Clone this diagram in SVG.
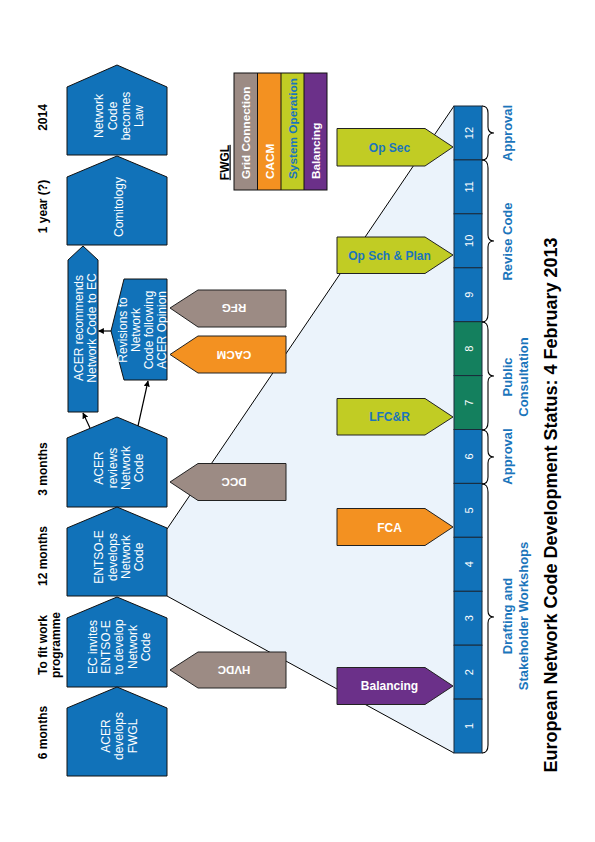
<svg xmlns="http://www.w3.org/2000/svg" width="595" height="842" viewBox="0 0 595 842">
<defs>
<style>
text{font-family:"Liberation Sans",Arial,sans-serif;}
.pent{fill:#1172b9;stroke:#111;stroke-width:1;}
.pt{fill:#fff;font-size:12px;text-anchor:middle;}
.time{fill:#000;font-size:12px;font-weight:bold;text-anchor:middle;}
.gray{fill:#9c8b84;stroke:#222;stroke-width:1;}
.orange{fill:#f39121;stroke:#222;stroke-width:1;}
.yg{fill:#c1cc24;stroke:#222;stroke-width:1;}
.purple{fill:#6b3089;stroke:#222;stroke-width:1;}
.tagw{fill:#fff;font-size:11.5px;font-weight:bold;text-anchor:middle;}
.tagb{fill:#1b75bb;font-size:12px;font-weight:bold;text-anchor:middle;}
.seg{fill:#1172b9;stroke:#1a2a3a;stroke-width:1;}
.segg{fill:#14805e;stroke:#1a2a3a;stroke-width:1;}
.num{fill:#fff;font-size:11px;text-anchor:middle;}
.brace{fill:none;stroke:#000;stroke-width:1.1;}
.phase{fill:#1b75bb;font-size:13px;font-weight:bold;text-anchor:middle;}
.leg{font-size:11.8px;font-weight:bold;}
.conn{fill:none;stroke:#000;stroke-width:1.2;}
</style>
<marker id="ah" viewBox="0 0 10 10" refX="9" refY="5" markerWidth="6" markerHeight="6" orient="auto" markerUnits="userSpaceOnUse">
<path d="M0,0 L10,5 L0,10 Z" fill="#000"/>
</marker>
</defs>
<rect x="0" y="0" width="595" height="842" fill="#fff"/>

<!-- light blue expansion area -->
<g id="expansion">
<polygon points="167,529 454,106 454,753 167,596" fill="#ebf3fb"/>
<line x1="167" y1="529" x2="454" y2="106" stroke="#000" stroke-width="1"/>
<line x1="167" y1="596" x2="454" y2="753" stroke="#000" stroke-width="1"/>
</g>

<!-- time labels -->
<g id="time-labels">
<text class="time" transform="translate(47,117.5) rotate(-90)">2014</text>
<text class="time" transform="translate(47,206.5) rotate(-90)">1 year (?)</text>
<text class="time" transform="translate(47,469) rotate(-90)">3 months</text>
<text class="time" transform="translate(47,556) rotate(-90)">12 months</text>
<text class="time" transform="translate(0,645) rotate(-90)"><tspan x="0" y="47">To fit work</tspan><tspan x="0" y="60">programme</tspan></text>
<text class="time" transform="translate(47,732.5) rotate(-90)">6 months</text>
</g>

<!-- process pentagons -->
<g id="n-law">
<path class="pent" d="M117,65 L167,87 L167,155 L67,155 L67,87 Z"/>
<text class="pt" transform="translate(0,116) rotate(-90)"><tspan x="0" y="103.3">Network</tspan><tspan x="0" y="116.6">Code</tspan><tspan x="0" y="129.9">becomes</tspan><tspan x="0" y="143.2">Law</tspan></text>
</g>
<g id="n-comitology">
<path class="pent" d="M117,156 L167,177 L167,245 L67,245 L67,177 Z"/>
<text class="pt" transform="translate(0,207) rotate(-90)"><tspan x="0" y="122.5">Comitology</tspan></text>
</g>
<g id="n-acer-recommends">
<path class="pent" d="M83,246 L98,260 L98,412 L68,412 L68,260 Z"/>
<text class="pt" transform="translate(0,328) rotate(-90)"><tspan x="0" y="82.5">ACER recommends</tspan><tspan x="0" y="96">Network Code to EC</tspan></text>
</g>
<g id="n-revisions">
<path class="pent" d="M124,279 L167,279 L167,380 L124,380 L111,331 Z"/>
<text class="pt" transform="translate(0,330) rotate(-90)"><tspan x="0" y="126.5">Revisions to</tspan><tspan x="0" y="139.5">Network</tspan><tspan x="0" y="152.5">Code following</tspan><tspan x="0" y="165.5">ACER Opinion</tspan></text>
</g>
<g id="n-acer-reviews">
<path class="pent" d="M117,417 L167,438 L167,507 L67,507 L67,438 Z"/>
<text class="pt" transform="translate(0,468) rotate(-90)"><tspan x="0" y="103.3">ACER</tspan><tspan x="0" y="116.6">reviews</tspan><tspan x="0" y="129.9">Network</tspan><tspan x="0" y="143.2">Code</tspan></text>
</g>
<g id="n-entsoe-develops">
<path class="pent" d="M117,507 L167,528 L167,596 L67,596 L67,528 Z"/>
<text class="pt" transform="translate(0,557) rotate(-90)"><tspan x="0" y="103.3">ENTSO-E</tspan><tspan x="0" y="116.6">develops</tspan><tspan x="0" y="129.9">Network</tspan><tspan x="0" y="143.2">Code</tspan></text>
</g>
<g id="n-ec-invites">
<path class="pent" d="M117,597 L167,618 L167,687 L67,687 L67,618 Z"/>
<text class="pt" transform="translate(0,647) rotate(-90)"><tspan x="0" y="96.7">EC invites</tspan><tspan x="0" y="110">ENTSO-E</tspan><tspan x="0" y="123.3">to develop</tspan><tspan x="0" y="136.6">Network</tspan><tspan x="0" y="149.9">Code</tspan></text>
</g>
<g id="n-acer-fwgl">
<path class="pent" d="M117,687 L167,708 L167,776 L67,776 L67,708 Z"/>
<text class="pt" transform="translate(0,736) rotate(-90)"><tspan x="0" y="110">ACER</tspan><tspan x="0" y="123.3">develops</tspan><tspan x="0" y="136.6">FWGL</tspan></text>
</g>

<!-- connectors -->
<g id="connectors">
<line class="conn" x1="90" y1="428" x2="83" y2="413" marker-end="url(#ah)"/>
<line class="conn" x1="138" y1="426" x2="148" y2="381" marker-end="url(#ah)"/>
<line class="conn" x1="111" y1="331" x2="98.5" y2="331" marker-end="url(#ah)"/>
</g>

<!-- left tags (upside-down text) -->
<g id="t-rfg">
<path class="gray" d="M170,308 L198,290 L286,290 L286,327 L198,327 Z"/>
<text class="tagw" transform="translate(234,304) rotate(180)">RFG</text>
</g>
<g id="t-cacm">
<path class="orange" d="M170,354.5 L198,336 L286,336 L286,373 L198,373 Z"/>
<text class="tagw" transform="translate(234,350.5) rotate(180)">CACM</text>
</g>
<g id="t-dcc">
<path class="gray" d="M170,482 L198,463.5 L286,463.5 L286,500.5 L198,500.5 Z"/>
<text class="tagw" transform="translate(234,478) rotate(180)">DCC</text>
</g>
<g id="t-hvdc">
<path class="gray" d="M170,670 L198,652 L286,652 L286,688 L198,688 Z"/>
<text class="tagw" transform="translate(234,666) rotate(180)">HVDC</text>
</g>

<!-- FWGL legend -->
<g id="legend">
<text transform="translate(228.5,162.5) rotate(-90)" style="font-size:12px;font-weight:bold;text-anchor:middle;text-decoration:underline;" fill="#000">FWGL</text>
<rect x="234" y="73" width="23.5" height="117" fill="#9c8b84"/>
<rect x="257.5" y="73" width="23.5" height="117" fill="#f39121"/>
<rect x="281" y="73" width="23" height="117" fill="#c1cc24"/>
<rect x="304" y="73" width="23" height="117" fill="#6b3089"/>
<rect x="234" y="73" width="93" height="117" fill="none" stroke="#111" stroke-width="1"/>
<line x1="257.5" y1="73" x2="257.5" y2="190" stroke="#111" stroke-width="1"/>
<line x1="281" y1="73" x2="281" y2="190" stroke="#111" stroke-width="1"/>
<line x1="304" y1="73" x2="304" y2="190" stroke="#111" stroke-width="1"/>
<text class="leg" fill="#fff" transform="translate(250,179) rotate(-90)">Grid Connection</text>
<text class="leg" fill="#fff" transform="translate(274,179) rotate(-90)">CACM</text>
<text class="leg" fill="#1b75bb" transform="translate(297,179) rotate(-90)">System Operation</text>
<text class="leg" fill="#fff" transform="translate(320,179) rotate(-90)">Balancing</text>
</g>

<!-- right tags -->
<g id="t-opsec">
<path class="yg" d="M337,128.5 L425,128.5 L453,147 L425,166 L337,166 Z"/>
<text class="tagb" x="389.5" y="151.5">Op Sec</text>
</g>
<g id="t-opsch">
<path class="yg" d="M337,237 L425,237 L453,255 L425,273.5 L337,273.5 Z"/>
<text class="tagb" x="389.5" y="259.5">Op Sch &amp; Plan</text>
</g>
<g id="t-lfcr">
<path class="yg" d="M337,398.5 L425,398.5 L453,417 L425,435 L337,435 Z"/>
<text class="tagb" x="389.5" y="421">LFC&amp;R</text>
</g>
<g id="t-fca">
<path class="orange" d="M337,508.5 L425,508.5 L453,527 L425,545.5 L337,545.5 Z"/>
<text class="tagw" style="font-size:12px" x="389.5" y="531.5">FCA</text>
</g>
<g id="t-balancing">
<path class="purple" d="M337,667.5 L425,667.5 L453,686 L425,704.5 L337,704.5 Z"/>
<text class="tagw" style="font-size:12px" x="389.5" y="690">Balancing</text>
</g>

<!-- timeline bar -->
<g id="timeline">
<rect class="seg" x="454" y="106" width="28" height="53.9"/>
<rect class="seg" x="454" y="159.9" width="28" height="53.9"/>
<rect class="seg" x="454" y="213.8" width="28" height="54"/>
<rect class="seg" x="454" y="267.8" width="28" height="53.9"/>
<rect class="segg" x="454" y="321.7" width="28" height="53.9"/>
<rect class="segg" x="454" y="375.6" width="28" height="53.9"/>
<rect class="seg" x="454" y="429.5" width="28" height="53.9"/>
<rect class="seg" x="454" y="483.4" width="28" height="53.9"/>
<rect class="seg" x="454" y="537.3" width="28" height="54"/>
<rect class="seg" x="454" y="591.3" width="28" height="53.9"/>
<rect class="seg" x="454" y="645.2" width="28" height="53.9"/>
<rect class="seg" x="454" y="699.1" width="28" height="53.9"/>
<text class="num" transform="translate(472.5,133) rotate(-90)">12</text>
<text class="num" transform="translate(472.5,186.9) rotate(-90)">11</text>
<text class="num" transform="translate(472.5,240.8) rotate(-90)">10</text>
<text class="num" transform="translate(472.5,294.7) rotate(-90)">9</text>
<text class="num" transform="translate(472.5,348.6) rotate(-90)">8</text>
<text class="num" transform="translate(472.5,402.6) rotate(-90)">7</text>
<text class="num" transform="translate(472.5,456.5) rotate(-90)">6</text>
<text class="num" transform="translate(472.5,510.4) rotate(-90)">5</text>
<text class="num" transform="translate(472.5,564.3) rotate(-90)">4</text>
<text class="num" transform="translate(472.5,618.2) rotate(-90)">3</text>
<text class="num" transform="translate(472.5,672.1) rotate(-90)">2</text>
<text class="num" transform="translate(472.5,726) rotate(-90)">1</text>
</g>

<!-- braces and phase labels -->
<g id="phases">
<path class="brace" d="M482,106 Q488,106 488,113 L488,127 Q488,133 494,133 Q488,133 488,139 L488,153 Q488,160 482,160"/>
<path class="brace" d="M482,160 Q488,160 488,168 L488,235 Q488,241 494,241 Q488,241 488,247 L488,314 Q488,322 482,322"/>
<path class="brace" d="M482,322 Q488,322 488,330 L488,370 Q488,376 494,376 Q488,376 488,382 L488,422 Q488,430 482,430"/>
<path class="brace" d="M482,430 Q488,430 488,437 L488,451 Q488,457 494,457 Q488,457 488,463 L488,477 Q488,484 482,484"/>
<path class="brace" d="M482,484 Q488,484 488,492 L488,611 Q488,617 494,617 Q488,617 488,623 L488,745 Q488,753 482,753"/>
<text class="phase" transform="translate(512,133) rotate(-90)">Approval</text>
<text class="phase" transform="translate(512,241.5) rotate(-90)">Revise Code</text>
<text class="phase" transform="translate(0,377) rotate(-90)"><tspan x="0" y="512">Public</tspan><tspan x="0" y="528">Consultation</tspan></text>
<text class="phase" transform="translate(512,456.5) rotate(-90)">Approval</text>
<text class="phase" transform="translate(0,616) rotate(-90)"><tspan x="0" y="512">Drafting and</tspan><tspan x="0" y="528">Stakeholder Workshops</tspan></text>
</g>

<!-- title -->
<text id="title" transform="translate(557,505) rotate(-90)" style="font-size:18px;font-weight:bold;text-anchor:middle;" fill="#000">European Network Code Development Status: 4 February 2013</text>
</svg>
